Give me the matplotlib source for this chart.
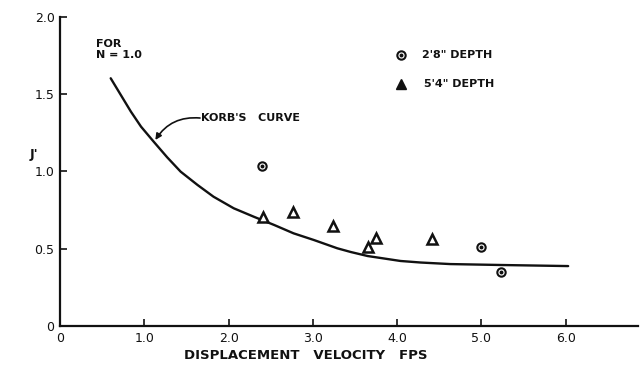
import matplotlib
matplotlib.use('Agg')
import matplotlib.pyplot as plt

# ── Data ────────────────────────────────────────────────────────────────────
curve_x = [0.60, 0.72, 0.84, 0.96, 1.11, 1.27, 1.43, 1.63, 1.82, 2.06, 2.30,
           2.54, 2.77, 3.01, 3.29, 3.45, 3.65, 4.04, 4.28, 4.63, 5.23, 5.58, 6.03]
curve_y = [1.603, 1.495, 1.387, 1.290, 1.193, 1.092, 0.999, 0.913, 0.837, 0.762,
           0.707, 0.654, 0.600, 0.557, 0.503, 0.479, 0.453, 0.421, 0.411, 0.401,
           0.395, 0.392, 0.388]

depth28_x = [2.40, 4.99, 5.23]          # 2'8" depth (circles)
depth28_y = [1.036, 0.511, 0.350]

depth54_x = [2.41, 2.76, 3.24, 3.66, 3.75, 4.41]   # 5'4" depth (triangles)
depth54_y = [0.706, 0.738, 0.647, 0.511, 0.570, 0.563]

x_ticks = [0, 1, 2, 3, 4, 5, 6]
x_labels = ['0', '1.0', '2.0', '3.0', '4.0', '5.0', '6.0']
y_ticks = [0, 0.5, 1.0, 1.5, 2.0]
y_labels = ['0', '0.5', '1.0', '1.5', '2.0']

FONT = 'DejaVu Sans'
INK = '#111111'

fig = plt.figure(figsize=(6.4, 3.68), dpi=100)
ax = fig.add_axes([0.094, 0.114, 0.903, 0.840])
ax.set_xlim(0, 6.86)
ax.set_ylim(0, 2.0)

for side in ('top', 'right'):
    ax.spines[side].set_visible(False)
for side in ('left', 'bottom'):
    ax.spines[side].set_linewidth(1.6)
    ax.spines[side].set_color(INK)

ax.set_xticks(x_ticks)
ax.set_xticklabels(x_labels, fontsize=9, family=FONT, color=INK)
ax.set_yticks(y_ticks)
ax.set_yticklabels(y_labels, fontsize=9, family=FONT, color=INK)
ax.tick_params(direction='in', length=5, width=1.2, color=INK, pad=4)

# ── Korb's curve ────────────────────────────────────────────────────────────
ax.plot(curve_x, curve_y, color=INK, lw=1.7, solid_capstyle='round',
        solid_joinstyle='round')

# ── measured points ─────────────────────────────────────────────────────────
ax.plot(depth28_x, depth28_y, 'o', ms=6, mfc='white', mec=INK, mew=1.5, ls='none')
ax.plot(depth28_x, depth28_y, 'o', ms=1.8, color=INK, ls='none')
ax.plot(depth54_x, depth54_y, '^', ms=6.5, mfc='white', mec=INK, mew=1.8, ls='none')

# ── annotations ─────────────────────────────────────────────────────────────
ax.text(0.42, 1.79, 'FOR\nN = 1.0', fontsize=8, family=FONT, color=INK,
        fontweight='bold', ha='left', va='center', linespacing=1.05)
ax.text(1.67, 1.346, "KORB'S   CURVE", fontsize=8, family=FONT, color=INK,
        fontweight='bold', ha='left', va='center')
ax.annotate('', xy=(1.13, 1.204), xytext=(1.66, 1.346),
            arrowprops=dict(arrowstyle='-|>', color=INK, lw=1.2,
                            mutation_scale=9, shrinkA=0, shrinkB=0,
                            connectionstyle='arc3,rad=0.3'))

# legend drawn by hand, like the original lettering
ax.plot([4.04], [1.754], 'o', ms=6, mfc='white', mec=INK, mew=1.5)
ax.plot([4.04], [1.754], 'o', ms=1.8, color=INK)
ax.text(4.30, 1.754, '2\'8" DEPTH', fontsize=8, family=FONT, color=INK,
        fontweight='bold', ha='left', va='center')
ax.plot([4.05], [1.566], '^', ms=7, color=INK)
ax.text(4.32, 1.566, '5\'4" DEPTH', fontsize=8, family=FONT, color=INK,
        fontweight='bold', ha='left', va='center')

ax.text(-0.31, 1.107, "J'", fontsize=9, family=FONT, color=INK, ha='center',
        fontweight='bold', va='center')
fig.text(0.477, 0.035, 'DISPLACEMENT   VELOCITY   FPS', fontsize=9.5,
         family=FONT, color=INK, fontweight='bold', ha='center', va='center')

plt.savefig('out.png', dpi=100, facecolor='white')
plt.close()
